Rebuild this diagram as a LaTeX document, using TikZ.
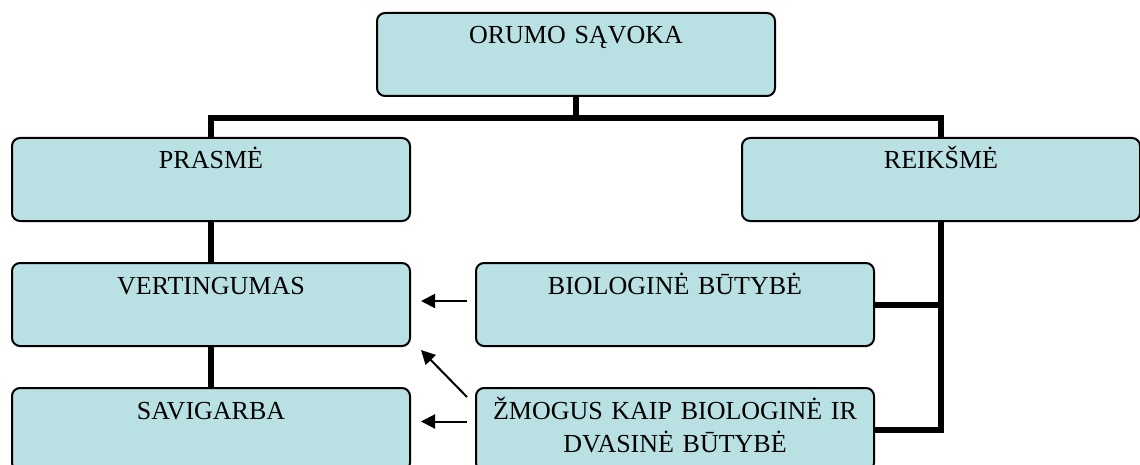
\documentclass[tikz,border=0pt]{standalone}
\usepackage{fontspec}
\setmainfont{Liberation Serif}
\usepackage{tikz}
\usetikzlibrary{arrows.meta,positioning}

\definecolor{boxfill}{RGB}{185,224,227}

\begin{document}
\begin{tikzpicture}[>={Triangle[length=7pt,width=7pt]}, node distance=20pt,
    box/.style={draw, line width=1pt, rounded corners=4pt, fill=boxfill,
        minimum width=199pt, text width=192pt, align=center, inner xsep=3.5pt,
        inner ysep=0pt, text height=15.5pt, text depth=26pt,
        font=\fontsize{13}{16.5}\selectfont},
    link/.style={line width=3pt},
    arr/.style={->, line width=1pt}]
    \useasboundingbox (0,0) rectangle (570pt,-232.5pt);

    % Nodes {orumo, prasme, reiksme, etc}
    \node [box, anchor=north]   (orumo)   at (288pt,-6pt)                      {ORUMO SĄVOKA};
    \node [box]                 (prasme)  [below=of orumo, xshift=-182.5pt]    {PRASMĖ};
    \node [box]                 (reiksme) [below=of orumo, xshift=182.5pt]     {REIKŠMĖ};
    \node [box]                 (vert)    [below=of prasme]                    {VERTINGUMAS};
    \node [box]                 (savig)   [below=of vert]                      {SAVIGARBA};
    \node [box]                 (bio)     [right=32pt of vert]                 {BIOLOGINĖ BŪTYBĖ};
    \node [box]                 (zmog)    [right=32pt of savig]                {ŽMOGUS KAIP BIOLOGINĖ IR\\ DVASINĖ BŪTYBĖ};

    % Tree lines
    \draw [link] (orumo.south) -- ++(0,-10.5pt) coordinate (bar);
    \draw [link] (prasme.north) |- (bar) -| (reiksme.north);
    \draw [link] (prasme.south) -- (vert.north);
    \draw [link] (vert.south) -- (savig.north);
    \draw [link] (reiksme.south) |- (zmog.east);
    \draw [link] (bio.east) -- (bio.east -| reiksme.south);

    % Arrows
    \draw [arr] ([shift={(-4pt,1.75pt)}]bio.west) -- ([shift={(5pt,1.75pt)}]vert.east);
    \draw [arr] ([shift={(-4pt,4pt)}]zmog.west) -- ([shift={(5pt,4pt)}]savig.east);
    \draw [arr] ([shift={(-4pt,-5pt)}]zmog.north west) -- ([shift={(5pt,-1.5pt)}]vert.south east);

\end{tikzpicture}
\end{document}
